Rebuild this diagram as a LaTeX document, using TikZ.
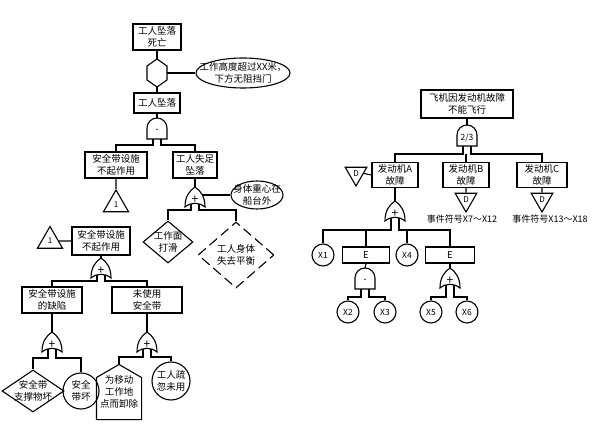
\documentclass[tikz,border=0pt]{standalone}
\usepackage{fontspec}
\setmainfont{Noto Sans CJK SC}
\usepackage{tikz}
\usetikzlibrary{calc}
\usetikzlibrary{shapes.geometric}

\tikzset{
  lbl/.style={font=\fontsize{9.5}{12}\selectfont,align=center},
  event/.style={draw,rectangle,lbl,inner sep=0pt},
  cond/.style={draw,ellipse,inner sep=0pt},
  basic/.style={draw,circle,lbl,inner sep=0pt},
  small/.style={draw,circle,inner sep=0pt,minimum size=22pt,font=\fontsize{8.5}{9}\selectfont},
  cause/.style={draw,diamond,inner sep=0pt},
  xfer/.style={draw,regular polygon,regular polygon sides=3,minimum size=29pt,inner sep=0pt,font=\fontsize{8}{8}\selectfont},
  xdown/.style={xfer,shape border rotate=180,minimum size=25pt},
  gsign/.style={inner sep=0pt,font=\fontsize{8.5}{9}\selectfont},
  orgate/.pic={
    \draw[fill=white] (-10,10) .. controls (-10,0) and (-6,-6) .. (0,-10)
      .. controls (6,-6) and (10,0) .. (10,10)
      .. controls (4,5) and (-4,5) .. (-10,10) -- cycle;
    \node[gsign,font=\fontsize{12}{12}\selectfont] at (0,2.5) {+};
    \coordinate (-top) at (0,-10);
    \coordinate (-e) at (7,-2);
    \coordinate (-l) at (-4,7);
    \coordinate (-r) at (4,7);
  },
  andgate/.pic={
    \draw[fill=white] (-10,11) -- (-10,0) arc[start angle=180,end angle=360,radius=10] -- (10,11) -- cycle;
    \node[gsign] at (0,3) {#1};
    \coordinate (-top) at (0,-10);
    \coordinate (-l) at (-4,11);
    \coordinate (-r) at (4,11);
  },
  inhibit/.pic={
    \draw[fill=white] (0,-14) -- (10,-7) -- (10,7) -- (0,14) -- (-10,7) -- (-10,-7) -- cycle;
    \coordinate (-top) at (0,-14);
    \coordinate (-bot) at (0,14);
    \coordinate (-e) at (10,0);
  },
}

\begin{document}
\begin{tikzpicture}[x=1pt,y=-1pt,line width=1.1pt]
\useasboundingbox (0,0) rectangle (597,430);

% worker falls
\node[event,minimum width=48pt,minimum height=26pt] (death) at (157,37) {工人坠落\\死亡};
\pic (inh) at (157,73) {inhibit};
\node[cond,minimum width=94pt,minimum height=30pt,label={[lbl]center:工作高度超过XX米，\\下方无阻挡门}] (height) at (243,73) {};
\node[event,minimum width=46pt,minimum height=20pt] (fall) at (157,103) {工人坠落};
\pic (g1) at (157,128) {andgate={\fontsize{7}{7}\selectfont\textbullet}};
\node[event,minimum width=62pt,minimum height=26pt] (belt) at (116,165) {安全带设施\\不起作用};
\node[event,minimum width=44pt,minimum height=26pt] (slip) at (195,165) {工人失足\\坠落};
\node[xfer] (tr1) at (116,204.5) {1};
\pic (g2) at (195,197) {orgate};
\node[cond,minimum width=52pt,minimum height=28pt,label={[lbl]center:身体重心在\\船台外}] (cog) at (257,195) {};
\node[cause,minimum width=50pt,minimum height=42pt,label={[lbl]center:工作面\\打滑}] (surf) at (168,242) {};
\node[cause,dash pattern=on 10pt off 5pt,minimum width=76pt,minimum height=66pt,label={[lbl]center:工人身体\\失去平衡}] (bal) at (236,255) {};

\draw (death.south) -- (inh-top);
\draw (inh-e) -- (height.west);
\draw (inh-bot) -- (fall.north);
\draw (fall.south) -- (g1-top);
\draw (g1-l) -- ++(0,6) -| (belt.north);
\draw (g1-r) -- ++(0,6) -| (slip.north);
\draw (belt.south) -- (tr1.north);
\draw (slip.south) -- (g2-top);
\draw (g2-e) -- (cog.west);
\draw (g2-l) -- ++(0,6) -| (surf.north);
\draw (g2-r) -- ++(0,6) -| (bal.north);

% transfer 1
\node[event,minimum width=58pt,minimum height=28pt] (belt2) at (101,241) {安全带设施\\不起作用};
\node[xfer] (tr2) at (50,241) {1};
\pic (g3) at (101,268) {orgate};
\node[event,minimum width=60pt,minimum height=26pt] (flaw) at (52,300) {安全带设施\\的缺陷};
\node[event,minimum width=70pt,minimum height=26pt] (nouse) at (147,300) {未使用\\安全带};
\pic (g4) at (52,342) {orgate};
\node[cause,minimum width=62pt,minimum height=42pt,label={[lbl]center:安全带\\支撑物坏}] (prop) at (33,391) {};
\node[basic,minimum size=36pt] (bad) at (81,391) {安全\\带坏};
\pic (g5) at (147,342) {orgate};
\node[lbl,inner sep=0pt,minimum width=44pt,minimum height=54pt] (move) at (119,392) {为移动\\工作地\\点而卸除};
\draw (move.south west) -- ++(0,-42) -- (move.north) -- ($(move.south east)+(0,-42)$) -- (move.south east) -- cycle;
\node[basic,minimum size=38pt] (neg) at (171,381) {工人疏\\忽未用};

\draw (belt2.west) -- (tr2.east);
\draw (belt2.south) -- (g3-top);
\draw (g3-l) -- ++(0,6) -| (flaw.north);
\draw (g3-r) -- ++(0,6) -| (nouse.north);
\draw (flaw.south) -- (g4-top);
\draw (g4-l) -- ++(0,9) -| (prop.north);
\draw (g4-r) -- ++(0,9) -| (bad.north);
\draw (nouse.south) -- (g5-top);
\draw (g5-l) -- ++(0,8) -| (move.north);
\draw (g5-r) -- ++(0,8) -| (neg.north);

% plane
\node[event,minimum width=92pt,minimum height=28pt] (plane) at (467,104) {飞机因发动机故障\\不能飞行};
\pic (gk) at (467,135) {andgate={2/3}};
\node[event,minimum width=46pt,minimum height=25pt] (engA) at (395,175) {发动机A\\故障};
\node[event,minimum width=46pt,minimum height=25pt] (engB) at (466,175) {发动机B\\故障};
\node[event,minimum width=50pt,minimum height=25pt] (engC) at (542,175) {发动机C\\故障};
\node[xdown] (dA) at (356,173.5) {D};
\node[xdown] (dB) at (466,199.5) {D};
\node[xdown] (dC) at (542,199.5) {D};
\node[font=\fontsize{9}{10}\selectfont] (evB) at (462,219) {事件符号X7～X12};
\node[font=\fontsize{9}{10}\selectfont] (evC) at (550,219) {事件符号X13～X18};
\pic (g6) at (395,211) {orgate};
\node[small] (x1) at (323,255) {X1};
\node[event,minimum width=47pt,minimum height=16pt] (ea) at (366,255) {E};
\node[small] (x4) at (407,255) {X4};
\node[event,minimum width=49pt,minimum height=16pt] (eb) at (450,255) {E};
\pic (g7) at (365,278) {andgate={\fontsize{7}{7}\selectfont\textbullet}};
\pic (g8) at (450,278) {orgate};
\node[small] (x2) at (348,312) {X2};
\node[small] (x3) at (385,312) {X3};
\node[small] (x5) at (431,312) {X5};
\node[small] (x6) at (467,312) {X6};

\draw (plane.south) -- (gk-top);
\draw (gk-l) -- ++(0,8) -| (engA.north);
\draw (gk-r) -- ++(0,8) -| (engC.north);
\draw (engB.north) -- ++(0,-8);
\draw (engA.west) -- (dA.east);
\draw (engB.south) -- (dB.north);
\draw (engC.south) -- (dC.north);
\draw (engA.south) -- (g6-top);
\draw (g6-l) -- ++(0,12) -| (x1.north);
\draw (g6-l) -- ++(0,12) -| (ea.north);
\draw (g6-r) -- ++(0,12) -| (x4.north);
\draw (g6-r) -- ++(0,12) -| (eb.north);
\draw (ea.south) -- (g7-top);
\draw (g7-l) -- ++(0,8) -| (x2.north);
\draw (g7-r) -- ++(0,8) -| (x3.north);
\draw (eb.south) -- (g8-top);
\draw (g8-l) -- ++(0,12) -| (x5.north);
\draw (g8-r) -- ++(0,12) -| (x6.north);
\end{tikzpicture}
\end{document}
